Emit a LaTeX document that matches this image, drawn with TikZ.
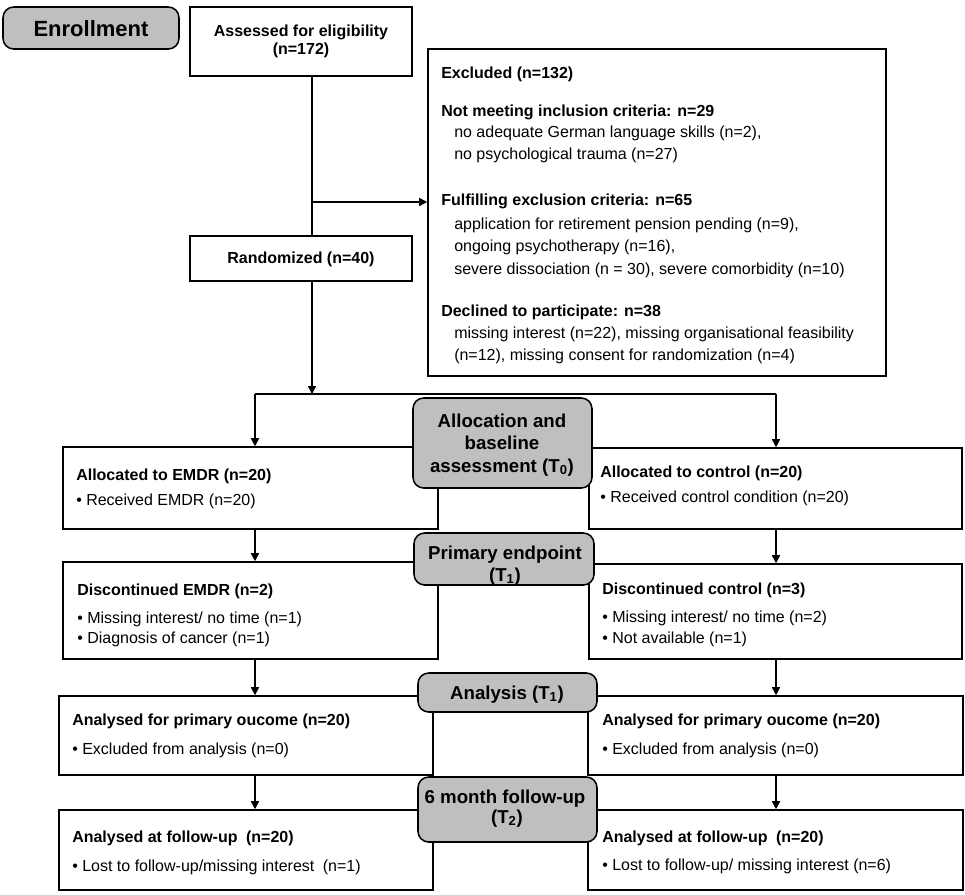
\documentclass[tikz,border=0pt]{standalone}
\usepackage{fontspec}
\setmainfont{Liberation Sans}
\usetikzlibrary{arrows.meta,fit}
\begin{document}
\begin{tikzpicture}[x=0.75pt,y=-0.75pt,
  box/.style={draw=black,line width=1.15pt,fill=white,inner sep=0pt},
  gbox/.style={draw=black,line width=1.15pt,fill=black!25,rounded corners=8pt,inner sep=0pt},
  hd/.style={font=\fontsize{12}{14}\selectfont\bfseries,inner sep=0pt,anchor=base west},
  bd/.style={font=\fontsize{12}{14}\selectfont,inner sep=0pt,anchor=base west},
  ctr/.style={font=\fontsize{12}{14}\selectfont\bfseries,inner sep=0pt,anchor=base},
  glab/.style={font=\fontsize{14}{17}\selectfont\bfseries,inner sep=0pt,anchor=base},
  conn/.style={line width=1.15pt},
  arr/.style={conn,-{Triangle[length=6pt,width=6pt]}}
]
\useasboundingbox (0,0) rectangle (965,894);

% white boxes
\node[box,fit={(190,7) (412,76)}] (assess) {};
\node[box,fit={(428,49) (886,376)}] (excl) {};
\node[box,fit={(190,236) (412,281)}] (rand) {};
\node[box,fit={(63,447) (438,529)}] (emdr) {};
\node[box,fit={(589,448) (962,529)}] (ctrl) {};
\node[box,fit={(63,562) (438,659)}] (dE) {};
\node[box,fit={(589,564) (962,659)}] (dC) {};
\node[box,fit={(59,696) (433,775)}] (aE) {};
\node[box,fit={(588,696) (963,775)}] (aC) {};
\node[box,fit={(59,810) (433,890)}] (fE) {};
\node[box,fit={(588,810) (963,890)}] (fC) {};

% gray stage boxes
\node[gbox,fit={(3,7) (179,49)}] (enroll) {};
\node[gbox,fit={(413,398) (592,488)}] (alloc) {};
\node[gbox,fit={(414,533) (594,585)}] (prim) {};
\node[gbox,fit={(418,673) (597,712)}] (anal) {};
\node[gbox,fit={(418,777) (597,842)}] (fol) {};

% connectors
\coordinate (trunk) at (312,0);
\coordinate (br) at (312,202);
\coordinate (splitL) at (255,394);
\coordinate (splitR) at (776,394);
\coordinate (colL) at (255,0);
\coordinate (colR) at (776,0);
\draw[conn] (assess.south -| trunk) -- (rand.north -| trunk);
\draw[arr] (br) -- (br -| excl.west);
\draw[arr] (rand.south -| trunk) -- (trunk |- splitL);
\draw[conn] (splitL) -- (splitR);
\draw[arr] (splitL) -- (splitL |- emdr.north);
\draw[arr] (splitR) -- (splitR |- ctrl.north);
\draw[arr] (emdr.south -| colL) -- (dE.north -| colL);
\draw[arr] (ctrl.south -| colR) -- (dC.north -| colR);
\draw[arr] (dE.south -| colL) -- (aE.north -| colL);
\draw[arr] (dC.south -| colR) -- (aC.north -| colR);
\draw[arr] (aE.south -| colL) -- (fE.north -| colL);
\draw[arr] (aC.south -| colR) -- (fC.north -| colR);

% stage labels
\node[font=\fontsize{16.5}{20}\selectfont\bfseries,inner sep=0pt,anchor=base] (tEnroll) at (91,36) {Enrollment};
\node[glab] (tAl1) at (502,427) {Allocation and};
\node[glab] (tAl2) at (502,449) {baseline};
\node[glab] (tAl3) at (502,472) {assessment (T\textsubscript{0})};
\node[glab] (tPr1) at (505,559) {Primary endpoint};
\node[glab] (tPr2) at (505,581) {(T\textsubscript{1})};
\node[glab] (tAn) at (507,699) {Analysis (T\textsubscript{1})};
\node[glab] (tFo1) at (505,803) {6 month follow-up};
\node[glab] (tFo2) at (507,823) {(T\textsubscript{2})};

% top boxes
\node[ctr] (tAs1) at (301,36) {Assessed for eligibility};
\node[ctr] (tAs2) at (301,54) {(n=172)};
\node[ctr] (tRa) at (301,263) {Randomized (n=40)};

% excluded box
\node[hd] (ex1) at (441,78) {Excluded (n=132)};
\node[hd] (ex2) at (441,116) {Not meeting inclusion criteria: n=29};
\node[bd] (ex3) at (454,137) {no adequate German language skills (n=2),};
\node[bd] (ex4) at (454,159) {no psychological trauma (n=27)};
\node[hd] (ex5) at (441,205) {Fulfilling exclusion criteria: n=65};
\node[bd] (ex6) at (454,229) {application for retirement pension pending (n=9),};
\node[bd] (ex7) at (454,251) {ongoing psychotherapy (n=16),};
\node[bd] (ex8) at (454,274) {severe dissociation (n = 30), severe comorbidity (n=10)};
\node[hd] (ex9) at (441,316) {Declined to participate: n=38};
\node[bd] (ex10) at (454,338) {missing interest (n=22), missing organisational feasibility};
\node[bd] (ex11) at (454,360) {(n=12), missing consent for randomization (n=4)};

% left column
\node[hd] (l1) at (76,480) {Allocated to EMDR (n=20)};
\node[bd] (l2) at (76,505) {\textbullet\ Received EMDR (n=20)};
\node[hd] (l3) at (77,595) {Discontinued EMDR (n=2)};
\node[bd] (l4) at (77,623) {\textbullet\ Missing interest/ no time (n=1)};
\node[bd] (l5) at (77,643) {\textbullet\ Diagnosis of cancer (n=1)};
\node[hd] (l6) at (72,725) {Analysed for primary oucome (n=20)};
\node[bd] (l7) at (72,754) {\textbullet\ Excluded from analysis (n=0)};
\node[hd] (l8) at (72,842) {Analysed at follow-up\hspace{3pt} (n=20)};
\node[bd] (l9) at (72,871) {\textbullet\ Lost to follow-up/missing interest\hspace{3pt} (n=1)};

% right column
\node[hd] (r1) at (600,477) {Allocated to control (n=20)};
\node[bd] (r2) at (600,502) {\textbullet\ Received control condition (n=20)};
\node[hd] (r3) at (602,594) {Discontinued control (n=3)};
\node[bd] (r4) at (602,622) {\textbullet\ Missing interest/ no time (n=2)};
\node[bd] (r5) at (602,643) {\textbullet\ Not available (n=1)};
\node[hd] (r6) at (602,725) {Analysed for primary oucome (n=20)};
\node[bd] (r7) at (602,754) {\textbullet\ Excluded from analysis (n=0)};
\node[hd] (r8) at (602,842) {Analysed at follow-up\hspace{3pt} (n=20)};
\node[bd] (r9) at (602,870) {\textbullet\ Lost to follow-up/ missing interest (n=6)};
\end{tikzpicture}
\end{document}
